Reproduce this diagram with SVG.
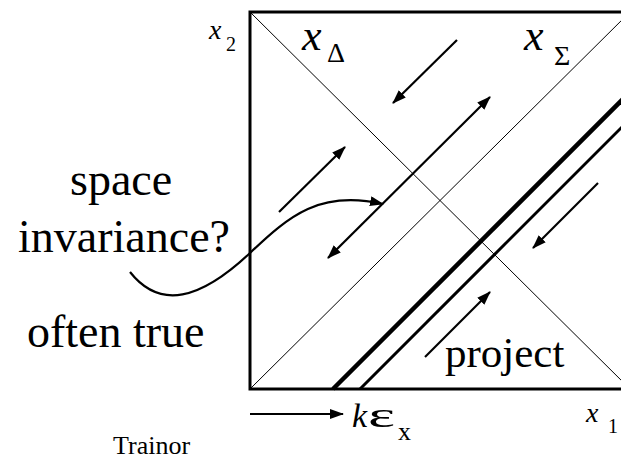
<svg xmlns="http://www.w3.org/2000/svg" width="621" height="460" viewBox="0 0 621 460">
<style>
.t{font-family:"Liberation Serif","Times New Roman",serif;fill:#000}
.i{font-style:italic}
.thin{stroke:#000;stroke-width:1;fill:none}
.arr{stroke:#000;stroke-width:2.2;fill:none}
</style>
<defs>
<marker id="ah" markerUnits="userSpaceOnUse" markerWidth="16" markerHeight="12" refX="13" refY="5" orient="auto-start-reverse" viewBox="0 0 16 12">
<path d="M0,0 L14,5 L0,10 Z" fill="#000"/>
</marker>
</defs>
<rect width="621" height="460" fill="#fff"/>
<g id="frame">
<rect x="250" y="12" width="380" height="377" fill="none" stroke="#000" stroke-width="3"/>
</g>
<g id="diagonals">
<line class="thin" x1="250" y1="12" x2="630" y2="389"/>
<line class="thin" x1="250" y1="389" x2="630" y2="12"/>
</g>
<g id="projection-lines">
<line x1="333" y1="389" x2="635" y2="87" stroke="#000" stroke-width="4.5"/>
<line x1="360" y1="389" x2="635" y2="114" stroke="#000" stroke-width="3"/>
</g>
<g id="connectors">
<line class="arr" x1="457" y1="40" x2="393" y2="103" marker-end="url(#ah)"/>
<line class="arr" x1="328" y1="258" x2="490" y2="97" marker-start="url(#ah)" marker-end="url(#ah)"/>
<line class="arr" x1="279" y1="212" x2="345" y2="147" marker-end="url(#ah)"/>
<line class="arr" x1="598" y1="183" x2="533" y2="248" marker-end="url(#ah)"/>
<line class="arr" x1="425" y1="357" x2="490" y2="292" marker-end="url(#ah)"/>
<line class="arr" x1="250" y1="414" x2="343" y2="414" marker-end="url(#ah)"/>
<path class="arr" d="M130,272 C160,310 200,300 250,253 C290,215 320,190 383,204" marker-end="url(#ah)"/>
</g>
<g id="label-x2"><text class="t i" x="209" y="39" font-size="28">x</text><text class="t" x="226" y="51" font-size="20">2</text></g>
<g id="label-xdelta"><text class="t i" x="302" y="50" font-size="44">x</text><text class="t" x="327" y="62" font-size="28">Δ</text></g>
<g id="label-xsigma"><text class="t i" x="524" y="50" font-size="44">x</text><text class="t" x="554" y="65" font-size="28">Σ</text></g>
<g id="label-space"><text class="t" x="70" y="195" font-size="46">space</text><text class="t" x="18" y="252" font-size="46">invariance?</text></g>
<g id="label-often"><text class="t" x="27" y="347" font-size="46">often true</text></g>
<g id="label-project"><text class="t" x="445" y="367" font-size="43">project</text></g>
<g id="label-keps"><text class="t i" x="352" y="427" font-size="34">k</text><text class="t" x="368" y="427" font-size="36" textLength="27" lengthAdjust="spacingAndGlyphs">ε</text><text class="t" x="398" y="440" font-size="26">x</text></g>
<g id="label-x1"><text class="t i" x="586" y="422" font-size="28">x</text><text class="t" x="608" y="433" font-size="20">1</text></g>
<g id="label-trainor"><text class="t" x="113" y="454" font-size="26">Trainor</text></g>
</svg>
